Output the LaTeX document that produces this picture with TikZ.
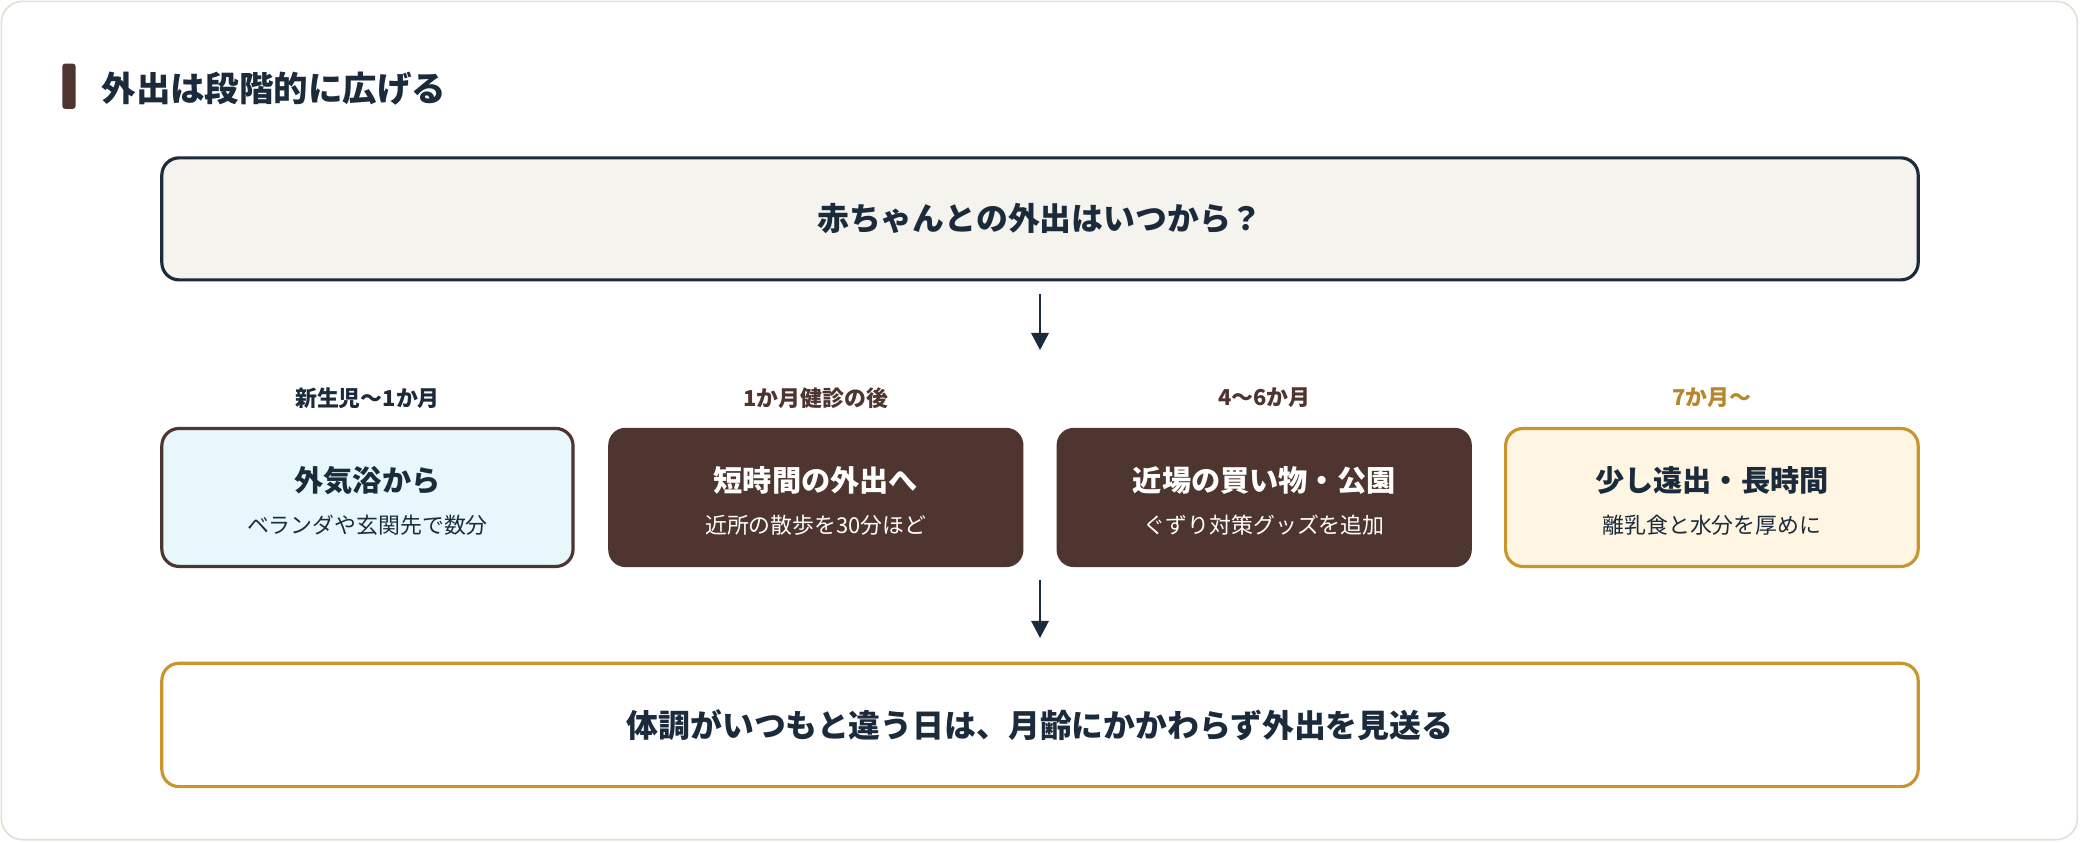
\documentclass[tikz,border=0pt]{standalone}
\usepackage{fontspec}
\setmainfont{Noto Sans CJK JP}
\usetikzlibrary{arrows.meta}
\definecolor{navy}{HTML}{1B2B3C}
\definecolor{brn}{HTML}{4E3530}
\definecolor{gold}{HTML}{C8952F}
\definecolor{goldt}{HTML}{B8862D}
\definecolor{cream}{HTML}{F5F3EE}
\definecolor{sky}{HTML}{E8F7FC}
\definecolor{pale}{HTML}{FFF5E3}
\definecolor{edge}{HTML}{E3DFD2}
\begin{document}
\begin{tikzpicture}[x=1pt,y=-1pt,
  box/.style={rounded corners=13pt,line width=2.4pt,align=center,inner sep=0pt},
  ttl/.style={font=\bfseries\fontsize{22}{26}\selectfont},
  sub/.style={font=\fontsize{16.5}{20}\selectfont},
  lab/.style={font=\bfseries\fontsize{16.5}{20}\selectfont,text=brn},
  arr/.style={-{Triangle[length=13pt,width=13pt]},line width=2pt,draw=navy}]
\useasboundingbox (0,0) rectangle (1568,635);
\draw[edge,fill=white,line width=1.2pt,rounded corners=16pt] (1,1) rectangle (1566,633);
\fill[brn,rounded corners=2pt] (47,48) rectangle (57,82);
\node[anchor=west,text=navy,font=\bfseries\fontsize{26}{30}\selectfont] (title) at (73,67) {外出は段階的に広げる};
\node[box,draw=navy,fill=cream,minimum width=1324pt,minimum height=92pt,text=navy,font=\bfseries\fontsize{24}{28}\selectfont] (top) at (784,165) {赤ちゃんとの外出はいつから？};
\node[box,draw=gold,fill=white,minimum width=1324pt,minimum height=93pt,text=navy,font=\bfseries\fontsize{24}{28}\selectfont] (bot) at (784,546.5) {体調がいつもと違う日は、月齢にかかわらず外出を見送る};
\node[box,draw=brn,fill=sky,minimum width=310pt,minimum height=104pt] (b1) at (277,375) {};
\node[box,draw=none,fill=brn,minimum width=313pt,minimum height=105pt] (b2) at (615,375) {};
\node[box,draw=none,fill=brn,minimum width=313pt,minimum height=105pt] (b3) at (953,375) {};
\node[box,draw=gold,fill=pale,minimum width=311pt,minimum height=104pt] (b4) at (1290.5,375) {};
\node[ttl,text=navy] (t1) at (277,362) {外気浴から};
\node[sub,text=navy] (s1) at (277,396) {ベランダや玄関先で数分};
\node[ttl,text=white] (t2) at (615,362) {短時間の外出へ};
\node[sub,text=white] (s2) at (615,396) {近所の散歩を30分ほど};
\node[ttl,text=white] (t3) at (953,362) {近場の買い物・公園};
\node[sub,text=white] (s3) at (953,396) {ぐずり対策グッズを追加};
\node[ttl,text=navy] (t4) at (1290.5,362) {少し遠出・長時間};
\node[sub,text=navy] (s4) at (1290.5,396) {離乳食と水分を厚めに};
\node[lab,text=navy] (l1) at (277,300) {新生児〜1か月};
\node[lab] (l2) at (615,300) {1か月健診の後};
\node[lab] (l3) at (953,300) {4〜6か月};
\node[lab,text=goldt] (l4) at (1290.5,300) {7か月〜};
\coordinate (a1s) at (784,222); \coordinate (a1e) at (784,264);
\coordinate (a2s) at (784,437); \coordinate (a2e) at (784,481);
\draw[arr] (a1s) -- (a1e);
\draw[arr] (a2s) -- (a2e);
\end{tikzpicture}
\end{document}
